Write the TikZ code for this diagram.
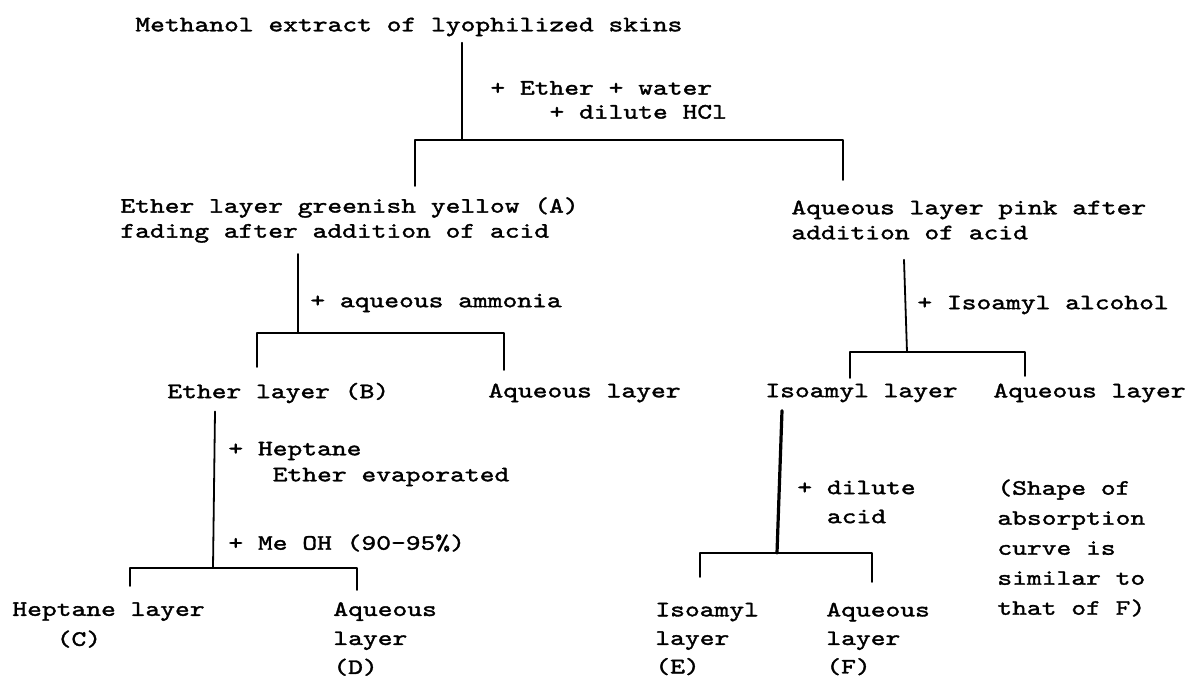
\documentclass[tikz,border=0pt]{standalone}
\usepackage{fontspec}
\newfontfamily\tw{lmmono10-regular.otf}[FakeStretch=1.28,FakeBold=1.6]
\tikzset{
  lbl/.style={anchor=west, inner sep=0pt, align=left, font=\tw\fontsize{11pt}{#1}\selectfont},
  lbl/.default=12.5pt,
  link/.style={line width=0.9pt, line cap=round, line join=round}
}
\begin{document}
\begin{tikzpicture}[x=0.5pt,y=-0.5pt]
            \useasboundingbox (0,0) rectangle (1190,682);
            % Extract, first split
            \node[lbl] (src) at (135,27) {Methanol extract of lyophilized skins};
            \node[lbl=12pt] (hcl) at (490,100) {+ Ether + water\\\phantom{xxxx}+ dilute HCl};
            \coordinate (j1) at (462,140);
            \coordinate (j1l) at (415,186);
            \coordinate (j1r) at (843,180);
            \draw[link] ([yshift=-3pt]src.south -| j1) -- (j1);
            \draw[link] (j1l) |- (j1) -| (j1r);
            % Ether layer (A) and aqueous layer
            \node[lbl] (ethA) at (120,220) {Ether layer greenish yellow (A)\\fading after addition of acid};
            \node[lbl] (aqA) at (791,220) {Aqueous layer pink after\\addition of acid};
            \node[lbl] (amm) at (310,303) {+ aqueous ammonia};
            \coordinate (j2) at (298,333);
            \coordinate (j2l) at (257,367);
            \coordinate (j2r) at (504,370);
            \draw[link] ([yshift=-5.5pt]ethA.south -| j2) -- (j2);
            \draw[link] (j2l) |- (j2) -| (j2r);
            \node[lbl] (iso) at (917,305) {+ Isoamyl alcohol};
            \coordinate (j3) at (907,352);
            \coordinate (j3l) at (850,378);
            \coordinate (j3r) at (1025,376);
            \draw[link] ([xshift=-1.5pt,yshift=-10pt]aqA.south -| j3) -- (j3);
            \draw[link] (j3l) |- (j3) -| (j3r);
            % Second splits
            \node[lbl] (ethB) at (167,393) {Ether layer (B)};
            \node[lbl] (aqB) at (488,393) {Aqueous layer};
            \node[lbl] (isoB) at (765,393) {Isoamyl layer};
            \node[lbl] (aqC) at (993,393) {Aqueous layer};
            \node[lbl=13pt] (hep) at (228,464) {+ Heptane\\\phantom{xxx}Ether evaporated};
            \node[lbl] (meoh) at (228,543) {+ Me OH (90-95\%)};
            \coordinate (j4) at (213,568);
            \coordinate (j4l) at (130,586);
            \coordinate (j4r) at (357,590);
            \draw[link] ([xshift=1pt,yshift=-4pt]ethB.south -| j4) -- (j4);
            \draw[link] (j4l) |- (j4) -| (j4r);
            \node[lbl=14.5pt] (dil) at (797,502) {+ dilute\\\phantom{xx}acid};
            \node[lbl=15pt] (note) at (997,548) {(Shape of\\absorption\\curve is\\similar to\\that of F)};
            \coordinate (j5) at (777,553);
            \coordinate (j5l) at (700,577);
            \coordinate (j5r) at (872,582);
            \draw[link, line width=1.6pt] ([xshift=2.5pt,yshift=-4pt]isoB.south -| j5) -- (j5);
            \draw[link] (j5l) |- (j5) -| (j5r);
            % Fractions C to F
            \node[lbl=15pt] (hepC) at (12,625) {Heptane layer\\\phantom{xxx}(C)};
            \node[lbl=14.5pt] (aqD) at (333,639) {Aqueous\\layer\\(D)};
            \node[lbl=14.25pt] (isoE) at (655,639) {Isoamyl\\layer\\(E)};
            \node[lbl=14.25pt] (aqF) at (826,639) {Aqueous\\layer\\(F)};
        \end{tikzpicture}
\end{document}
